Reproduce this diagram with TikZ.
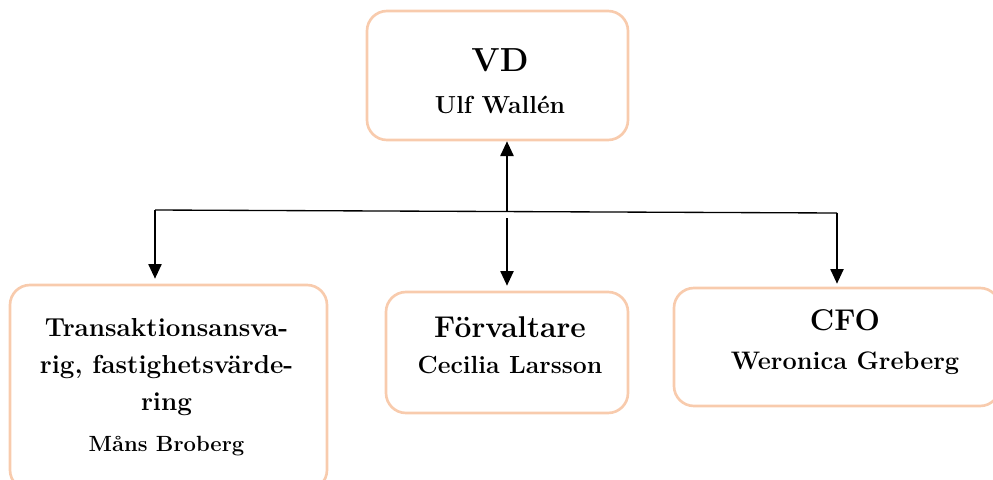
\documentclass[tikz,border=0pt]{standalone}
\usepackage{fontspec}
\usetikzlibrary{arrows.meta}
\definecolor{peach}{RGB}{248,203,173}
\begin{document}
\begin{tikzpicture}[x=0.75pt,y=0.75pt,yscale=-1,xscale=1,
  box/.style={draw=peach,line width=2pt,rounded corners=15pt,inner sep=0pt},
  txt/.style={align=center,inner sep=0pt},
  conn/.style={line width=1pt},
  arr/.style={conn,-{Triangle[width=10pt,length=11pt]}}]
\useasboundingbox (0,0) rectangle (993,479);
\clip (0,0) rectangle (993,479);
% boxes
\node[box,minimum width=195.75pt,minimum height=96.75pt] (vd) at (497.5,75.5) {};
\node[box,minimum width=237.75pt,minimum height=153.75pt] (trans) at (168.5,387.5) {};
\node[box,minimum width=181.5pt,minimum height=90.75pt] (forv) at (507,352.5) {};
\node[box,minimum width=244.5pt,minimum height=88.5pt] (cfo) at (837,347) {};
% texts
\node[txt,font={\bfseries\fontsize{18}{31.5}\selectfont}] (vdtxt) at (500,81.5) {\fontsize{25}{30}\selectfont VD\\\fontsize{18.5}{22}\selectfont Ulf Wallén};
\node[txt,font={\bfseries\fontsize{19.5}{27.75}\selectfont}] (transtxt) at (166.5,387.5) {Transaktionsansva-\\rig, fastighetsvärde-\\ring\\[3pt]\fontsize{16.5}{20}\selectfont Måns Broberg};
\node[txt,font={\bfseries\fontsize{18}{27}\selectfont}] (forvtxt) at (510,345.5) {\fontsize{22.5}{27}\selectfont Förvaltare\\\fontsize{18.6}{22}\selectfont Cecilia Larsson};
\node[txt,font={\bfseries\fontsize{18}{29.5}\selectfont}] (cfotxt) at (845,342) {\fontsize{22.5}{27}\selectfont CFO\\\fontsize{19}{23}\selectfont Weronica Greberg};
% connectors
\coordinate (jl) at (155,210);
\coordinate (jr) at (837,213);
\coordinate (jm) at (507,211.5);
\coordinate (jd) at (507,218);
\draw[conn] (jl) -- (jr);
\draw[arr] (jm) -- (jm |- vd.south);
\draw[arr,shorten >=3.75pt] (jl) -- (jl |- trans.north);
\draw[arr,shorten >=3.75pt] (jd) -- (jd |- forv.north);
\draw[arr,shorten >=2.25pt] (jr) -- (jr |- cfo.north);
\end{tikzpicture}
\end{document}
